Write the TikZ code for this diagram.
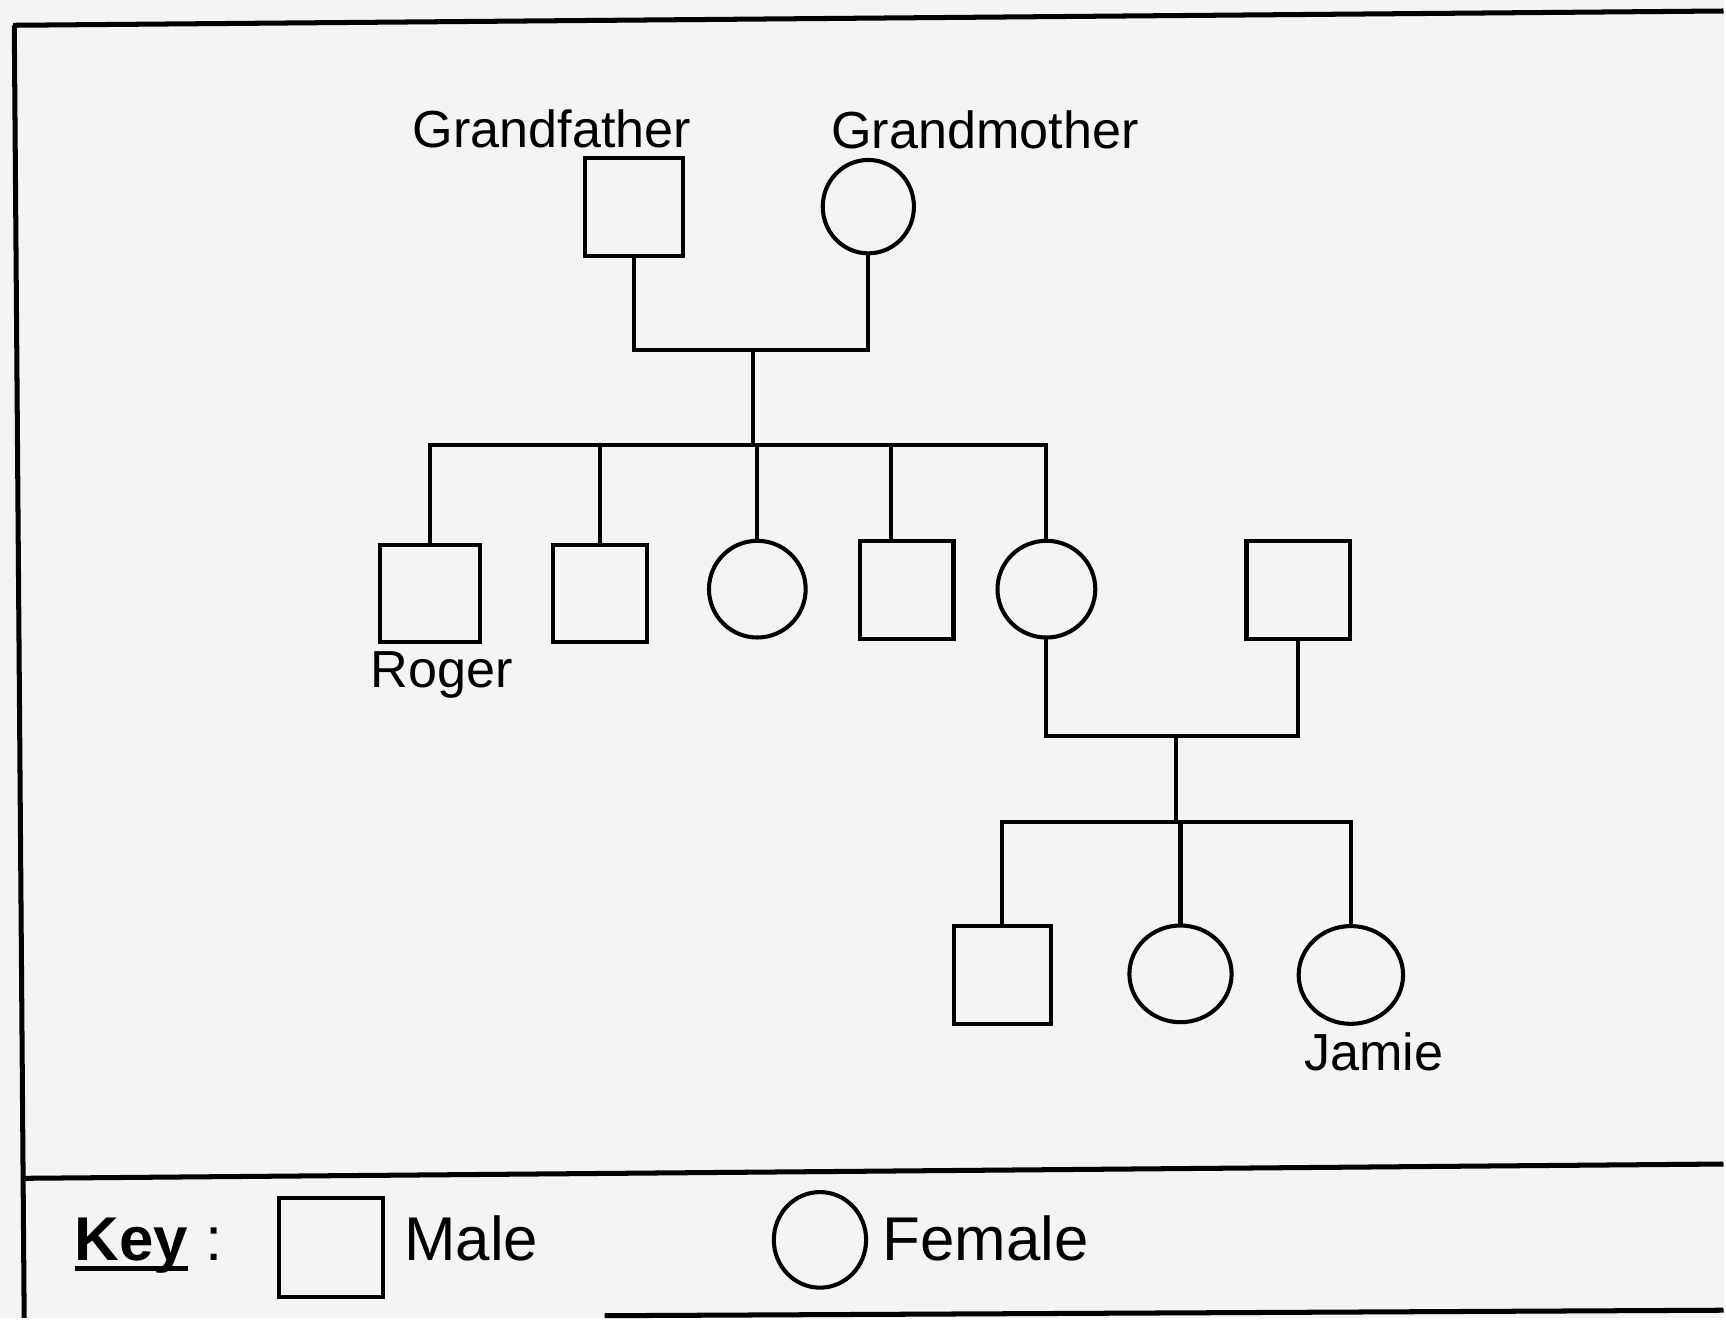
\documentclass[tikz,border=0pt]{standalone}
\usepackage{fontspec}
\setmainfont{Liberation Sans}
\usetikzlibrary{shapes.geometric}
\definecolor{bg}{HTML}{F4F4F4}
\newcommand\thickul[1]{\setbox0\hbox{#1}\rlap{\rule[-0.16em]{\wd0}{0.08em}}\box0\relax}
\begin{document}
\begin{tikzpicture}[x=0.02cm,y=-0.02cm,
  line width=2.1pt,
  male/.style={draw, rectangle, minimum width=1.78cm, minimum height=1.78cm, inner sep=0pt, outer sep=0pt},
  female/.style={draw, ellipse, minimum width=1.72cm, minimum height=1.74cm, inner sep=0pt, outer sep=0pt},
  lbl/.style={font=\fontsize{27}{32}\selectfont, inner sep=0pt},
  keytxt/.style={font=\fontsize{32}{38}\selectfont, inner sep=0pt, anchor=base west},
  frame/.style={line width=2.6pt},
  link/.style={line width=2.1pt}]
\fill[bg] (0,0) rectangle (1568,1199);
% frame
\draw[frame] (12,23) -- (1568,10);
\draw[frame] (13,23) -- (22,1199);
\draw[frame] (22,1072) -- (1568,1059);
\draw[frame] (550,1197) -- (1568,1192);
% generation I
\node[male] (gf) at (577,188) {};
\node[female, minimum width=1.66cm, minimum height=1.7cm] (gm) at (790,188) {};
\node[lbl] (gfl) at (502,117) {Grandfather};
\node[lbl] (gml) at (896,118) {Grandmother};
\coordinate (m1) at (685,318);
\coordinate (s1) at (685,405);
\draw[link] (gf.south) |- (m1) -| (gm.south);
\draw[link] (m1) -- (s1);
% generation II
\node[male, minimum width=1.82cm] (c1) at (391,540) {};
\node[male, minimum width=1.7cm] (c2) at (546,540) {};
\node[female, minimum width=1.76cm, minimum height=1.76cm] (c3) at (689,536) {};
\node[male, minimum width=1.7cm] (c4) at (825,537) {};
\node[female, minimum width=1.78cm, minimum height=1.76cm] (c5) at (952,536) {};
\node[male, minimum width=1.88cm] (hb) at (1181,537) {};
\node[lbl] (rl) at (402,614) {Roger};
\draw[link] (c1.north) -- (c1.north |- s1) -- (c5.north |- s1) -- (c5.north);
\draw[link] (c2.north) -- (c2.north |- s1);
\draw[link] (c3.north) -- (c3.north |- s1);
\draw[link] ([xshift=-0.28cm]c4.north) -- ([xshift=-0.28cm]c4.north |- s1);
% generation III
\coordinate (m2) at (1070,670);
\coordinate (s2) at (1070,748);
\draw[link] (c5.south) |- (m2) -| (hb.south);
\draw[link] (m2) -- (s2);
\node[male] (g1) at (912,887) {};
\node[female, minimum width=1.86cm, minimum height=1.76cm] (g2) at (1074,886) {};
\node[female, minimum width=1.9cm, minimum height=1.78cm] (g3) at (1229,887) {};
\node[lbl] (jl) at (1250,957) {Jamie};
\draw[link] (g1.north) -- (g1.north |- s2) -- (g3.north |- s2) -- (g3.north);
\draw[link] (g2.north) -- (g2.north |- s2);
% key
\node[keytxt] (key) at (66,1147) {\thickul{\textbf{Key}} :};
\node[male, minimum width=1.9cm, minimum height=1.8cm] (km) at (301,1135) {};
\node[keytxt] (kml) at (366,1147) {Male};
\node[female, minimum width=1.68cm, minimum height=1.74cm] (kf) at (746,1128) {};
\node[keytxt] (kfl) at (801,1147) {Female};
\end{tikzpicture}
\end{document}
